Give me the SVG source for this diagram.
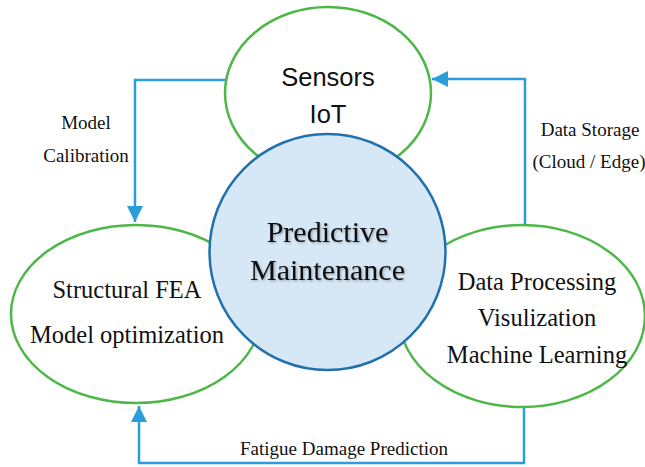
<svg xmlns="http://www.w3.org/2000/svg" width="645" height="467" viewBox="0 0 645 467">
  <style>
    .ring { fill: #ffffff; stroke: #4db848; stroke-width: 2.5; }
    .hub { fill: #d6e8f6; stroke: #2271ad; stroke-width: 2.5; }
    .link { fill: none; stroke: #2a9ddb; stroke-width: 2.5; }
    .serif { font-family: "Liberation Serif", "Times New Roman", serif; fill: #111111; text-anchor: middle; }
    .sans { font-family: "Liberation Sans", Arial, sans-serif; fill: #111111; text-anchor: middle; }
    .node { font-size: 24.5px; }
    .label { font-size: 19px; }
  </style>
  <defs>
    <marker id="arrow" viewBox="0 0 10 10" refX="10" refY="5" markerWidth="6.4" markerHeight="6.4" markerUnits="strokeWidth" orient="auto">
      <path d="M0,0 L10,5 L0,10 Z" fill="#2a9ddb"/>
    </marker>
    <filter id="soft" x="-10%" y="-10%" width="120%" height="130%">
      <feDropShadow dx="1.2" dy="1.2" stdDeviation="0.8" flood-color="#000000" flood-opacity="0.3"/>
    </filter>
  </defs>

  <rect width="645" height="467" fill="#ffffff"/>

  <!-- Connectors -->
  <g id="connectors">
    <path class="link" d="M226,80 H135 V222" marker-end="url(#arrow)"/>
    <path class="link" d="M525,224 V79 H432" marker-end="url(#arrow)"/>
    <path class="link" d="M524,407 V463 H139 V406" marker-end="url(#arrow)"/>
    <text class="serif label" x="86" y="129">Model</text>
    <text class="serif label" x="86" y="162">Calibration</text>
    <text class="serif label" x="590" y="136">Data Storage</text>
    <text class="serif label" x="589" y="168">(Cloud / Edge)</text>
    <text class="serif label" x="344" y="455">Fatigue Damage Prediction</text>
  </g>

  <!-- Sensors / IoT -->
  <g id="sensors">
    <ellipse class="ring" cx="328" cy="93" rx="103" ry="86"/>
    <text class="sans" font-size="25.5" x="328" y="86">Sensors</text>
    <text class="sans" font-size="25.5" x="328" y="123">IoT</text>
  </g>

  <!-- Structural FEA -->
  <g id="fea">
    <ellipse class="ring" cx="136" cy="314" rx="125" ry="89"/>
    <text class="serif node" x="127" y="298">Structural FEA</text>
    <text class="serif node" x="127" y="343">Model optimization</text>
  </g>

  <!-- Data processing -->
  <g id="processing">
    <ellipse class="ring" cx="522" cy="316" rx="123" ry="91"/>
    <text class="serif node" x="537" y="290">Data Processing</text>
    <text class="serif node" x="537" y="326">Visulization</text>
    <text class="serif node" x="537" y="363">Machine Learning</text>
  </g>

  <!-- Central hub -->
  <g id="hub">
    <circle class="hub" cx="327.5" cy="252" r="118"/>
    <g filter="url(#soft)">
      <text class="serif" font-size="30" x="327.5" y="242">Predictive</text>
      <text class="serif" font-size="30" x="327.5" y="280">Maintenance</text>
    </g>
  </g>
</svg>
